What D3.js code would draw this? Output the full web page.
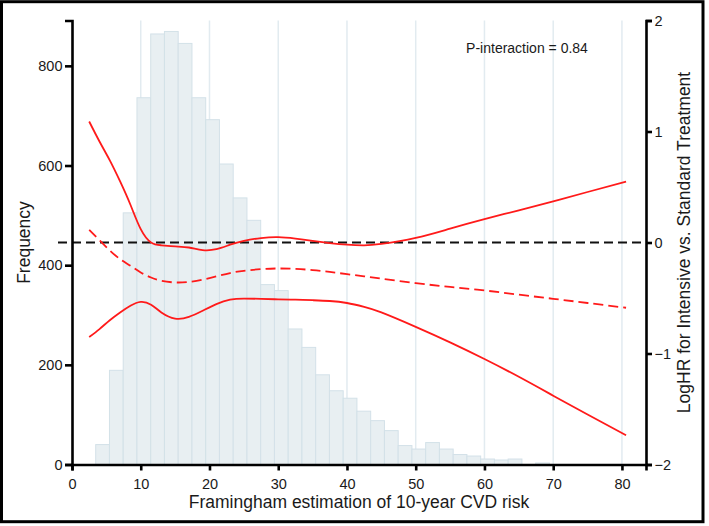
<!DOCTYPE html>
<html>
<head>
<meta charset="utf-8">
<script src="https://cdn.jsdelivr.net/npm/d3@7"></script>
<style>
  html, body { margin: 0; padding: 0; background: #fff; }
  svg text { font-family: "Liberation Sans", Arial, sans-serif; fill: #1a1a1a; }
</style>
</head>
<body>
<div id="chart"></div>
<script>
// histogram of Framingham risk (bins of width 2 starting at 3.45)
const binStart = 3.45;
const binWidth = 2;
const counts = [40, 189, 505, 736, 864, 869, 845, 736, 692, 603, 535, 490, 361, 349, 272, 235,
  180, 148, 133, 107, 88, 68, 38, 31, 44, 31, 20, 17, 11, 9, 11, 0, 3];

// spline of log HR vs risk
const riskX = [2.5, 4, 5.5, 7, 8.5, 10, 11.5, 13, 15, 17, 19, 21, 23, 25, 27.5, 30, 32.5, 35,
  37.5, 40, 42.5, 45, 50, 55, 60, 65, 70, 75, 80.6];
const upperCI = [1.09, 0.91, 0.74, 0.55, 0.34, 0.12, 0.0, -0.025, -0.035, -0.045, -0.068, -0.06,
  -0.02, 0.015, 0.04, 0.048, 0.035, 0.015, -0.005, -0.02, -0.025, -0.012, 0.042, 0.125, 0.21,
  0.29, 0.37, 0.455, 0.549];
const estimate = [0.114, 0.02, -0.072, -0.15, -0.21, -0.27, -0.315, -0.345, -0.36, -0.355,
  -0.335, -0.305, -0.275, -0.255, -0.24, -0.234, -0.238, -0.248, -0.265, -0.285, -0.305, -0.325,
  -0.366, -0.4, -0.432, -0.47, -0.507, -0.545, -0.588];
const lowerCI = [-0.852, -0.78, -0.7, -0.63, -0.57, -0.535, -0.56, -0.63, -0.685, -0.67, -0.615,
  -0.555, -0.515, -0.505, -0.508, -0.512, -0.515, -0.52, -0.527, -0.545, -0.58, -0.63, -0.76,
  -0.9, -1.05, -1.21, -1.38, -1.55, -1.737];

const xTicks = [0, 10, 20, 30, 40, 50, 60, 70, 80];
const freqTicks = [0, 200, 400, 600, 800];
const hrTicks = [-2, -1, 0, 1, 2];
const pText = "P-interaction = 0.84";

const width = 709;
const height = 526;
const margin = { top: 20.5, left: 72, bottom: 61.5, right: 63 };

const svg = d3.select("#chart").append("svg")
  .attr("width", width)
  .attr("height", height);

const x = d3.scaleLinear().domain([0, 83.5]).range([margin.left, width - margin.right]);
const yFreq = d3.scaleLinear().domain([0, 891]).range([height - margin.bottom, margin.top]);
const yHR = d3.scaleLinear().domain([-2, 2]).range([height - margin.bottom, margin.top]);

// frame
svg.append("rect")
  .attr("x", 1.5).attr("y", 1.7)
  .attr("width", 701.5).attr("height", 520)
  .attr("fill", "none").attr("stroke", "#000").attr("stroke-width", 3);

// vertical grid
svg.append("g").selectAll("line")
  .data(xTicks.filter(d => d > 0))
  .join("line")
  .attr("x1", d => x(d)).attr("x2", d => x(d))
  .attr("y1", margin.top).attr("y2", height - margin.bottom)
  .attr("stroke", "#e2ebf0").attr("stroke-width", 1.5);

// histogram
svg.append("g").selectAll("rect")
  .data(counts)
  .join("rect")
  .attr("x", (d, i) => x(binStart + i * binWidth))
  .attr("width", x(binStart + binWidth) - x(binStart))
  .attr("y", d => yFreq(d))
  .attr("height", d => yFreq(0) - yFreq(d))
  .attr("fill", "#e8eff2")
  .attr("stroke", d => d > 0 ? "#d3e1e8" : "none")
  .attr("stroke-width", 1);

// zero reference
svg.append("line")
  .attr("x1", 58).attr("x2", x.range()[1] - 5)
  .attr("y1", yHR(0)).attr("y2", yHR(0))
  .attr("stroke", "#111").attr("stroke-width", 1.8)
  .attr("stroke-dasharray", "9,5");

const line = d3.line()
  .x((d, i) => x(riskX[i]))
  .y(d => yHR(d))
  .curve(d3.curveNatural);

svg.append("path").datum(upperCI).attr("d", line)
  .attr("fill", "none").attr("stroke", "#ff1a1a").attr("stroke-width", 1.8);
svg.append("path").datum(lowerCI).attr("d", line)
  .attr("fill", "none").attr("stroke", "#ff1a1a").attr("stroke-width", 1.8);
svg.append("path").datum(estimate).attr("d", line)
  .attr("fill", "none").attr("stroke", "#ff1a1a").attr("stroke-width", 1.8)
  .attr("stroke-dasharray", "10,5");

// axes
const styleAxis = g => {
  g.selectAll(".domain").attr("stroke", "#000").attr("stroke-width", 2.6);
  g.selectAll(".tick line").attr("stroke", "#000").attr("stroke-width", 2.6);
  g.selectAll("text").style("font-size", "14.5px").attr("fill", "#1a1a1a");
};

svg.append("g")
  .attr("transform", `translate(0,${height - margin.bottom})`)
  .call(d3.axisBottom(x).tickValues(xTicks).tickSizeOuter(0).tickSize(6).tickPadding(8.5))
  .call(styleAxis);

svg.append("g")
  .attr("transform", `translate(${margin.left},0)`)
  .call(d3.axisLeft(yFreq).tickValues(freqTicks).tickSizeOuter(0).tickSize(7).tickPadding(2.5))
  .call(styleAxis);

svg.append("g")
  .attr("transform", `translate(${width - margin.right},0)`)
  .call(d3.axisRight(yHR).tickValues(hrTicks).tickSizeOuter(0).tickSize(6).tickPadding(2.5)
    .tickFormat(d3.format("d")))
  .call(styleAxis);

// titles
svg.append("text")
  .attr("x", (x.range()[0] + x.range()[1]) / 2).attr("y", 508)
  .attr("text-anchor", "middle").style("font-size", "17.5px")
  .text("Framingham estimation of 10-year CVD risk");

svg.append("text")
  .attr("transform", `translate(30,${(margin.top + height - margin.bottom) / 2}) rotate(-90)`)
  .attr("text-anchor", "middle").style("font-size", "17.5px")
  .text("Frequency");

svg.append("text")
  .attr("transform", `translate(690,${(margin.top + height - margin.bottom) / 2}) rotate(-90)`)
  .attr("text-anchor", "middle").style("font-size", "17.5px")
  .text("LogHR for Intensive vs. Standard Treatment");

svg.append("text")
  .attr("x", 527).attr("y", 53)
  .attr("text-anchor", "middle").style("font-size", "14px")
  .text(pText);
</script>
</body>
</html>
